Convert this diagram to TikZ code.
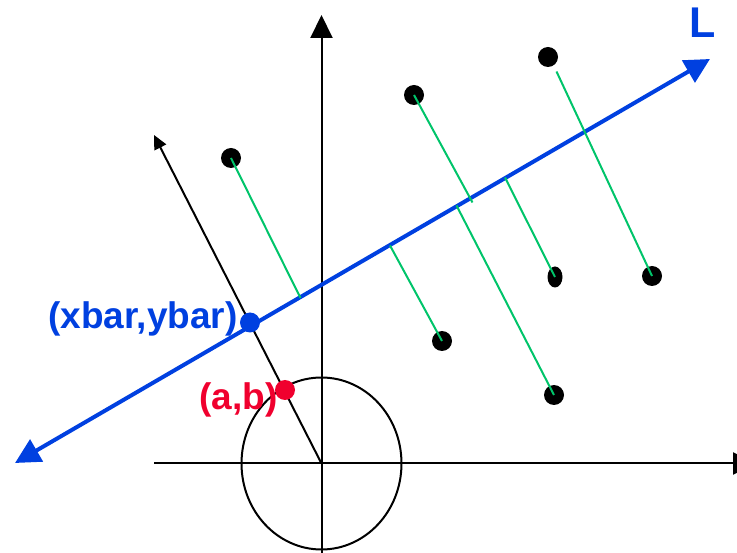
\documentclass[tikz,border=0pt]{standalone}
\usepackage{fontspec}
\setmainfont{Liberation Sans}
\usetikzlibrary{positioning,arrows.meta,shapes.geometric}
\definecolor{lineblue}{HTML}{0040E0}
\definecolor{pointred}{HTML}{F0002E}
\definecolor{projgreen}{HTML}{00C46A}

\begin{document}
\begin{tikzpicture}[x=1pt, y=-1pt,
    dot/.style={circle, fill=black, inner sep=0pt, minimum size=20pt},
    axis/.style={line width=2pt, -{Triangle[length=23pt, width=22pt]}},
    proj/.style={projgreen, line width=2pt},
    fitline/.style={lineblue, line width=4pt, {Triangle[length=25pt, width=25pt]}-{Triangle[length=25pt, width=25pt]}},
    lbl/.style={font=\fontsize{37}{41}\selectfont\bfseries, inner sep=0pt}
]
\clip (0,0) rectangle (737,553);

% Axes and unit circle
\coordinate (o) at (321.5,463.5);
\coordinate (xl) at (154,463.5);
\coordinate (xr) at (756,463.5);
\coordinate (yb) at (321.5,553);
\coordinate (yt) at (321.5,15);
\draw[axis, -] (xl) -- (o);
\draw[axis] (o) -- (xr);
\draw[axis] (yb) -- (yt);
\draw[line width=2pt] (o) ellipse [x radius=80, y radius=86];

% Normal direction
\coordinate (ntip) at (154,135);
\draw[line width=2pt, -{Triangle[length=14pt, width=13pt]}] (o) -- (ntip);

% Line L
\coordinate (lstart) at (15,463);
\coordinate (lend) at (710,59);
\draw[fitline] (lstart) -- (lend);
\node[font=\fontsize{43}{46}\selectfont\bfseries, lineblue, inner sep=0pt] (lname) at (702.5,22.5) {L};

% Data points
\node[dot] (p1) at (231,158) {};
\node[dot] (p2) at (414,95) {};
\node[dot] (p3) at (548,57) {};
\node[dot] (p4) at (652,276) {};
\node[ellipse, fill=black, inner sep=0pt, minimum width=15pt, minimum height=21pt] (p5) at (555,277) {};
\node[dot] (p6) at (442,341) {};
\node[dot] (p7) at (554,395) {};

% Projections onto L
\coordinate (f1) at (300.5,298);
\coordinate (f2) at (472.5,202.5);
\coordinate (f3) at (556.5,71.5);
\coordinate (f5) at (505,177.5);
\coordinate (f6) at (390,245.5);
\coordinate (f7) at (456.5,205.5);
\draw[proj] (p1.center) -- (f1);
\draw[proj] (p2.center) -- (f2);
\draw[proj] (f3) -- (p4.center);
\draw[proj] (f5) -- (p5.center);
\draw[proj] (f6) -- (p6.center);
\draw[proj] (f7) -- (p7.center);

% Mean and closest point
\node[circle, fill=lineblue, inner sep=0pt, minimum size=20pt] (xb) at (250,322.5) {};
\node[circle, fill=pointred, inner sep=0pt, minimum size=20pt] (ab) at (285,390) {};
\node[lbl, lineblue, left=2pt of xb, yshift=3.5pt] (xblabel) {(xbar,ybar)};
\node[lbl, pointred, left=-3pt of ab, yshift=-9.5pt] (ablabel) {(a,b)};
\end{tikzpicture}
\end{document}
